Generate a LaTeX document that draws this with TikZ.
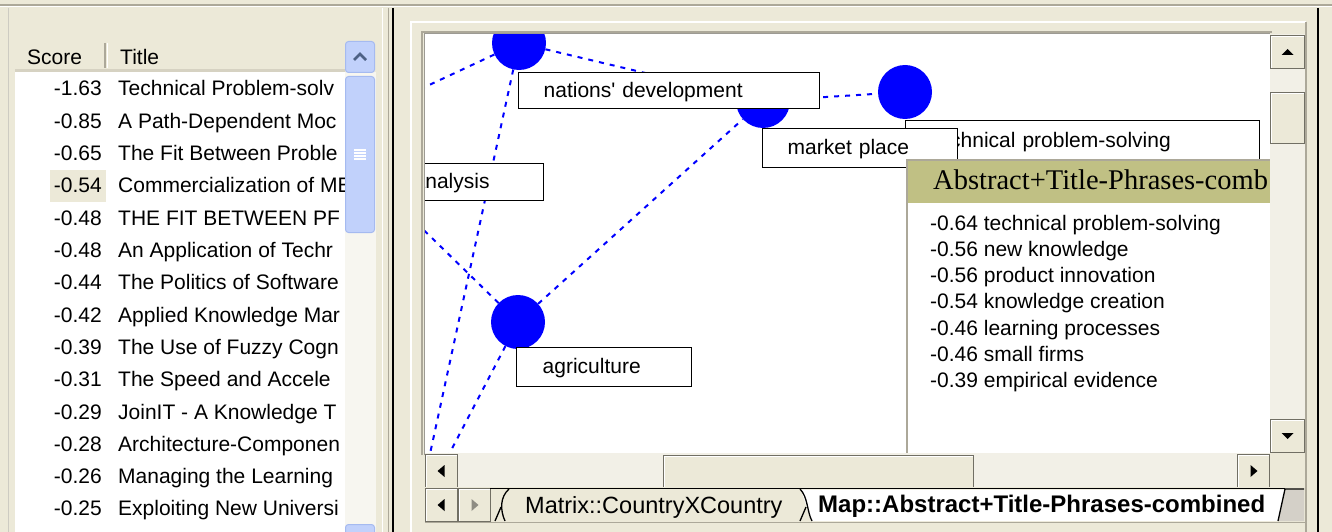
\documentclass[tikz,border=0pt]{standalone}
\usepackage{fontspec}
\setmainfont{Liberation Sans}[Ligatures=TeXOff]
\newfontfamily\hdrserif{Liberation Serif}
\usetikzlibrary{calc}
\definecolor{xpbg}{RGB}{236,233,216}
\definecolor{xpline}{RGB}{172,168,153}
\definecolor{xpdark}{RGB}{113,111,100}
\definecolor{xpblue}{RGB}{193,209,251}
\definecolor{xpblueb}{RGB}{165,186,240}
\definecolor{xparrow}{RGB}{77,97,133}
\definecolor{xptrack}{RGB}{247,246,240}
\definecolor{cltrack}{RGB}{242,240,231}
\definecolor{popolive}{RGB}{192,192,132}
\definecolor{mapblue}{RGB}{0,0,255}
\definecolor{tabgray}{RGB}{212,208,200}
\definecolor{hdrshade}{RGB}{214,210,194}
\begin{document}
\begin{tikzpicture}[x=1pt,y=-1pt,
  txt/.style={inner sep=0pt, font=\fontsize{21}{24}\selectfont},
  dot/.style={circle, fill=mapblue, inner sep=0pt, minimum size=54pt},
  edge/.style={draw=mapblue, line width=2pt, dash pattern=on 5pt off 6pt},
  mlabel/.style={draw=black, line width=1.3pt, fill=white, anchor=north west, inner sep=0pt,
    text height=16pt, text depth=3pt, align=left, font=\fontsize{21}{24}\selectfont},
  btn/.style={fill=xpbg, draw=xpdark, line width=1pt, inner sep=0pt, anchor=north west,
    path picture={\draw[white,line width=3pt] (path picture bounding box.south west) |- (path picture bounding box.north east);}},
  xpbtn/.style={fill=xpblue, draw=xpblueb, line width=1pt, rounded corners=3pt, inner sep=0pt, anchor=north west},
  tri/.style={fill=black},
  tabedge/.style={draw=black, line width=1.3pt},
]
\useasboundingbox (0,0) rectangle (1332,532);
\fill[xpbg] (0,0) rectangle (1332,532);
% top rule
\draw[xpline, line width=1.5pt] (0,5) -- (1332,5);
\draw[white, line width=1pt] (0,7) -- (1332,7);
\draw[xpline!60, line width=1pt] (8,8) -- (8,532);

% ---------------- left list ----------------
\fill[white] (15,72) rectangle (345,532);
\fill[xpbg] (15,40) rectangle (345,72);
\draw[hdrshade, line width=3pt] (15,70.5) -- (345,70.5);
\draw[xpline, line width=1.5pt] (105,43) -- (105,68);
\draw[white, line width=1pt] (107,43) -- (107,68);
\node[txt, anchor=base west] (hscore) at (27,65) {Score};
\node[txt, anchor=base west] (htitle) at (120,65) {Title};
\fill[xpbg] (50,170) rectangle (106,202);
\begin{scope}
\clip (15,72) rectangle (344,532);
\foreach \s/\t [count=\i from 0] in {-1.63/Technical Problem-solv, -0.85/A Path-Dependent Moc,
  -0.65/The Fit Between Proble, -0.54/Commercialization of ME, -0.48/THE FIT BETWEEN PF,
  -0.48/An Application of Techr, -0.44/The Politics of Software, -0.42/Applied Knowledge Mar,
  -0.39/The Use of Fuzzy Cogn, -0.31/The Speed and Accele, -0.29/JoinIT - A Knowledge T,
  -0.28/Architecture-Componen, -0.26/Managing the Learning, -0.25/Exploiting New Universi}{
  \node[txt, anchor=base east] (sc\i) at (102,96+32.3*\i) {\s};
  \node[txt, anchor=base west] (ti\i) at (118,96+32.3*\i) {\t};
}
\end{scope}
% XP scrollbar
\fill[xptrack] (345,72) rectangle (376,532);
\node[xpbtn, minimum width=29pt, minimum height=31pt] (lup) at (345,41) {};
\draw[xparrow, line width=2.5pt] ($(lup.center)+(-6,3)$) -- ($(lup.center)+(0,-3)$) -- ($(lup.center)+(6,3)$);
\node[xpbtn, minimum width=29pt, minimum height=156pt] (lthumb) at (345,76) {};
\foreach \k in {-4.5,-1.5,1.5,4.5}
  \draw[white, line width=1.2pt] ($(lthumb.center)+(-6,\k)$) -- ++(12,0);
\node[xpbtn, minimum width=29pt, minimum height=20pt] (ldn) at (345,524) {};

% dividers
\draw[white, line width=1pt] (382,8) -- (382,532);
\draw[xpline, line width=1pt] (388,8) -- (388,532);
\draw[black, line width=2.5pt] (393,8) -- (393,532);

% ---------------- right panel frame ----------------
\draw[white, line width=1.5pt] (411,532) -- (411,22) -- (1306,22);
\draw[xpline, line width=1.5pt] (1306,22) -- (1306,532);
\draw[black, line width=2.5pt] (1318,8) -- (1318,532);
\fill[white] (425,34) rectangle (1270,453);
\draw[xpline, line width=2pt] (422,455) -- (422,32) -- (1272,32);
\draw[xpdark!70, line width=1pt] (424,455) -- (424,34) -- (1270,34);

% ---------------- map ----------------
\begin{scope}
\clip (425,35) rectangle (1270,453);
\node[dot] (cnat) at (519,43) {};
\node[dot] (cmkt) at (763,101) {};
\node[dot] (ctech) at (905,92) {};
\node[dot] (cagr) at (518,322) {};
\coordinate (offA) at (380,108);
\coordinate (offB) at (420,500);
\coordinate (offC) at (393,200);
\coordinate (offD) at (433,485);
\draw[edge] (cnat) -- (offA);
\draw[edge] (cnat) -- (offB);
\draw[edge] (cnat) -- (cmkt);
\draw[edge] (cmkt) -- (ctech);
\draw[edge] (cagr) -- (cmkt);
\draw[edge] (cagr) -- (offC);
\draw[edge] (cagr) -- (offD);
\node[mlabel, text width=301pt, minimum height=36pt] (lnat) at (518,72) {\hspace*{25pt}nations' development};
\node[mlabel, text width=354pt, minimum height=40pt] (ltech) at (905,120) {\hspace*{27pt}technical problem-solving};
\node[mlabel, text width=195pt, minimum height=39pt] (lmkt) at (762,128) {\hspace*{25pt}market place};
\node[mlabel, text width=143pt, minimum height=37pt] (lana) at (400,163) {\hspace*{13pt}analysis};
\node[mlabel, text width=175pt, minimum height=39pt] (lagr) at (516,347) {\hspace*{26pt}agriculture};
% popup
\fill[white] (907,160) rectangle (1272,455);
\fill[popolive] (908,161) rectangle (1272,203);
\draw[xpline, line width=2pt] (907,455) -- (907,160) -- (1272,160);
\node[anchor=base west, inner sep=0pt, font=\hdrserif\fontsize{28.5}{29}\selectfont] (pophdr) at (933,189) {Abstract+Title-Phrases-comb};
\foreach \t [count=\i from 0] in {-0.64 technical problem-solving, -0.56 new knowledge,
  -0.56 product innovation, -0.54 knowledge creation, -0.46 learning processes,
  -0.46 small firms, -0.39 empirical evidence}{
  \node[txt, anchor=base west] (pl\i) at (930,230+26.3*\i) {\t};
}
\end{scope}

% vertical scrollbar (classic)
\fill[cltrack] (1270,34) rectangle (1305,453);
\node[btn, minimum width=34pt, minimum height=33pt] (vup) at (1270,35) {};
\fill[tri] ($(vup.center)+(-6,3)$) -- ($(vup.center)+(6,3)$) -- ($(vup.center)+(0,-3)$) -- cycle;
\node[btn, minimum width=34pt, minimum height=51pt] (vthumb) at (1270,92) {};
\node[btn, minimum width=34pt, minimum height=33pt] (vdn) at (1270,419) {};
\fill[tri] ($(vdn.center)+(-6,-3)$) -- ($(vdn.center)+(6,-3)$) -- ($(vdn.center)+(0,3)$) -- cycle;

% horizontal scrollbar
\fill[cltrack] (425,453) rectangle (1270,487);
\node[btn, minimum width=32pt, minimum height=33pt] (hl) at (425,454) {};
\fill[tri] ($(hl.center)+(-4,0)$) -- ($(hl.center)+(3,-6)$) -- ($(hl.center)+(3,6)$) -- cycle;
\node[btn, minimum width=310pt, minimum height=32pt] (hthumb) at (663,455) {};
\node[btn, minimum width=32pt, minimum height=33pt] (hr) at (1237,454) {};
\fill[tri] ($(hr.center)+(4,0)$) -- ($(hr.center)+(-3,-6)$) -- ($(hr.center)+(-3,6)$) -- cycle;

% tab strip
\fill[xpbg] (425,487) rectangle (1305,522);
\node[btn, minimum width=32pt, minimum height=33pt] (tl) at (425,488) {};
\fill[tri] ($(tl.center)+(-4,0)$) -- ($(tl.center)+(3,-6)$) -- ($(tl.center)+(3,6)$) -- cycle;
\node[btn, minimum width=32pt, minimum height=33pt] (tr) at (458,488) {};
\fill[xpdark!80] ($(tr.center)+(4,0)$) -- ($(tr.center)+(-3,-6)$) -- ($(tr.center)+(-3,6)$) -- cycle;
\fill[white] (801,489.5) -- (1285,489.5) -- (1278,521) -- (811,521) -- cycle;
\fill[tabgray] (1285,489.5) -- (1304,489.5) -- (1304,521) -- (1278,521) -- cycle;
\draw[black, line width=1.5pt] (490,488.5) -- (1285,488.5);
\draw[tabedge] (1278,521) -- (1285,489) -- (1304,489);
\draw[tabedge] (509,489) .. controls (500,497) and (500,510) .. (505,521);
\draw[tabedge] (501,507) -- (495,521);
\draw[tabedge] (800,489) .. controls (808,497) and (807,512) .. (812,521);
\draw[tabedge] (806,507) -- (800,521);
\draw[xpline, line width=1pt] (425,522) -- (1305,522);
\node[anchor=base west, inner sep=0pt, font=\fontsize{23.5}{24}\selectfont] (tab1) at (525,513) {Matrix::CountryXCountry};
\node[anchor=base west, inner sep=0pt, font=\bfseries\fontsize{24}{24}\selectfont] (tab2) at (818,512) {Map::Abstract+Title-Phrases-combined};
\end{tikzpicture}
\end{document}
